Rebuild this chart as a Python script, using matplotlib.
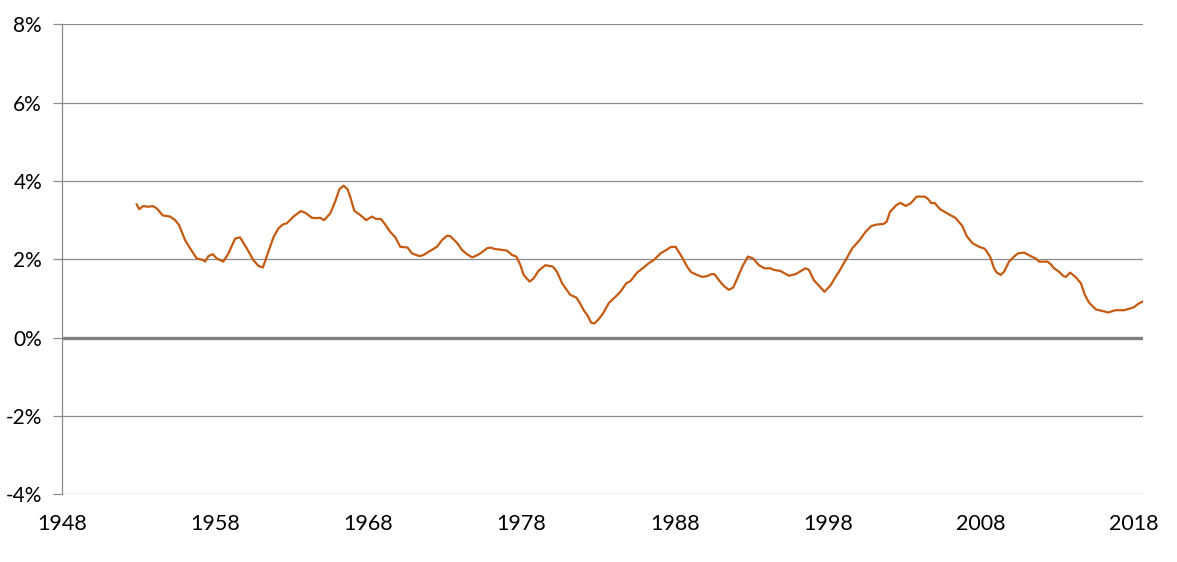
import numpy as np
import matplotlib.pyplot as plt

# series (year, % value)
years = [
    1952.86, 1953.03, 1953.29, 1953.62, 1953.91, 1954.17, 1954.56, 1955.04, 1955.37, 1955.63,
    1956.02, 1956.35, 1956.78, 1957.22, 1957.33, 1957.54, 1957.83, 1958.09, 1958.52, 1958.85,
    1959.29, 1959.61, 1960.05, 1960.48, 1960.81, 1961.10, 1961.46, 1961.79, 1962.12, 1962.41,
    1962.67, 1963.10, 1963.58, 1963.86, 1964.30, 1964.63, 1964.84, 1965.10, 1965.50, 1965.82,
    1966.10, 1966.37, 1966.63, 1966.80, 1967.07, 1967.46, 1967.85, 1968.22, 1968.50, 1968.81,
    1969.03, 1969.42, 1969.75, 1970.07, 1970.55, 1970.84, 1971.33, 1971.59, 1971.92, 1972.47,
    1972.80, 1973.12, 1973.34, 1973.78, 1974.10, 1974.43, 1974.76, 1974.97, 1975.30, 1975.74,
    1975.95, 1976.28, 1976.72, 1977.05, 1977.37, 1977.65, 1977.92, 1978.13, 1978.52, 1978.78,
    1979.11, 1979.55, 1980.05, 1980.31, 1980.64, 1980.92, 1981.18, 1981.58, 1981.79, 1982.05,
    1982.31, 1982.54, 1982.75, 1983.03, 1983.32, 1983.69, 1984.12, 1984.45, 1984.84, 1985.10,
    1985.54, 1985.97, 1986.30, 1986.63, 1987.07, 1987.46, 1987.72, 1988.05, 1988.48, 1988.81,
    1989.07, 1989.46, 1989.79, 1990.12, 1990.38, 1990.59, 1990.88, 1991.20, 1991.53, 1991.82,
    1992.08, 1992.41, 1992.77, 1993.12, 1993.49, 1993.86, 1994.25, 1994.47, 1994.91, 1995.45,
    1995.89, 1996.54, 1996.76, 1997.08, 1997.52, 1997.78, 1998.18, 1998.50, 1998.72, 1999.16,
    1999.59, 2000.03, 2000.46, 2000.84, 2001.23, 2001.62, 2001.84, 2002.05, 2002.49, 2002.75,
    2003.08, 2003.41, 2003.80, 2004.32, 2004.54, 2004.76, 2004.97, 2005.32, 2005.80, 2006.13,
    2006.35, 2006.78, 2007.07, 2007.44, 2007.87, 2008.24, 2008.59, 2008.85, 2009.03, 2009.29,
    2009.50, 2009.83, 2010.16, 2010.42, 2010.81, 2011.25, 2011.58, 2011.79, 2012.34, 2012.56,
    2012.77, 2013.10, 2013.39, 2013.54, 2013.82, 2014.19, 2014.52, 2014.78, 2015.06, 2015.50,
    2015.93, 2016.30, 2016.69, 2016.80, 2017.35, 2017.96, 2018.26, 2018.55,
]
values = [
    3.40, 3.28, 3.36, 3.34, 3.36, 3.30, 3.12, 3.09, 3.00, 2.87,
    2.49, 2.28, 2.02, 1.98, 1.94, 2.08, 2.13, 2.02, 1.94, 2.15,
    2.53, 2.56, 2.28, 1.98, 1.83, 1.79, 2.19, 2.56, 2.79, 2.89,
    2.92, 3.09, 3.23, 3.19, 3.06, 3.05, 3.06, 3.00, 3.17, 3.47,
    3.79, 3.88, 3.79, 3.60, 3.24, 3.13, 3.00, 3.09, 3.03, 3.03,
    2.92, 2.70, 2.56, 2.32, 2.30, 2.15, 2.08, 2.11, 2.19, 2.32,
    2.49, 2.60, 2.59, 2.42, 2.24, 2.13, 2.05, 2.08, 2.15, 2.28,
    2.30, 2.26, 2.24, 2.22, 2.11, 2.07, 1.85, 1.60, 1.43, 1.51,
    1.71, 1.85, 1.81, 1.68, 1.39, 1.23, 1.09, 1.02, 0.89, 0.70,
    0.56, 0.38, 0.36, 0.47, 0.62, 0.88, 1.04, 1.17, 1.39, 1.44,
    1.66, 1.79, 1.90, 1.98, 2.15, 2.24, 2.31, 2.32, 2.05, 1.81,
    1.67, 1.60, 1.55, 1.57, 1.62, 1.62, 1.47, 1.32, 1.22, 1.28,
    1.51, 1.81, 2.07, 2.02, 1.85, 1.77, 1.77, 1.73, 1.70, 1.58,
    1.62, 1.77, 1.73, 1.47, 1.28, 1.17, 1.34, 1.55, 1.68, 1.98,
    2.28, 2.47, 2.70, 2.85, 2.89, 2.90, 2.96, 3.21, 3.39, 3.44,
    3.36, 3.43, 3.60, 3.60, 3.54, 3.43, 3.44, 3.28, 3.17, 3.10,
    3.05, 2.85, 2.59, 2.41, 2.32, 2.27, 2.07, 1.77, 1.66, 1.60,
    1.68, 1.94, 2.07, 2.15, 2.17, 2.08, 2.02, 1.94, 1.94, 1.87,
    1.77, 1.68, 1.57, 1.55, 1.66, 1.54, 1.39, 1.09, 0.89, 0.72,
    0.68, 0.64, 0.69, 0.70, 0.70, 0.77, 0.86, 0.92,
]

x_ticks = [1948, 1958, 1968, 1978, 1988, 1998, 2008, 2018]
y_ticks = [-4, -2, 0, 2, 4, 6, 8]

plt.rcParams['font.family'] = ['Lato', 'DejaVu Sans']

fig = plt.figure(figsize=(11.77, 5.62), dpi=100)
ax = fig.add_axes([0.0529, 0.1205, 0.9185, 0.8363])

grid_col = '#8c8c8c'
for v in y_ticks:
    if v == 0:
        continue
    ax.axhline(v, color=grid_col, lw=0.9, zorder=1)
ax.axhline(0, color='#808080', lw=2.4, zorder=2)

ax.plot(years, values, color='#C55A11', lw=1.6, zorder=3)

ax.set_xlim(1948, 2018.6)
ax.set_ylim(-4, 8)
ax.set_xticks(x_ticks)
ax.set_xticklabels([str(t) for t in x_ticks], fontsize=15.5)
ax.set_yticks(y_ticks)
ax.set_yticklabels(['{}%'.format(t) for t in y_ticks], fontsize=15)

for s in ['top', 'right', 'bottom']:
    ax.spines[s].set_visible(False)
ax.spines['left'].set_color(grid_col)
ax.spines['left'].set_linewidth(0.9)

ax.tick_params(axis='y', length=6.5, width=0.9, color=grid_col, pad=8)
ax.tick_params(axis='x', length=0, pad=14)

fig.savefig('out.png', dpi=100)
